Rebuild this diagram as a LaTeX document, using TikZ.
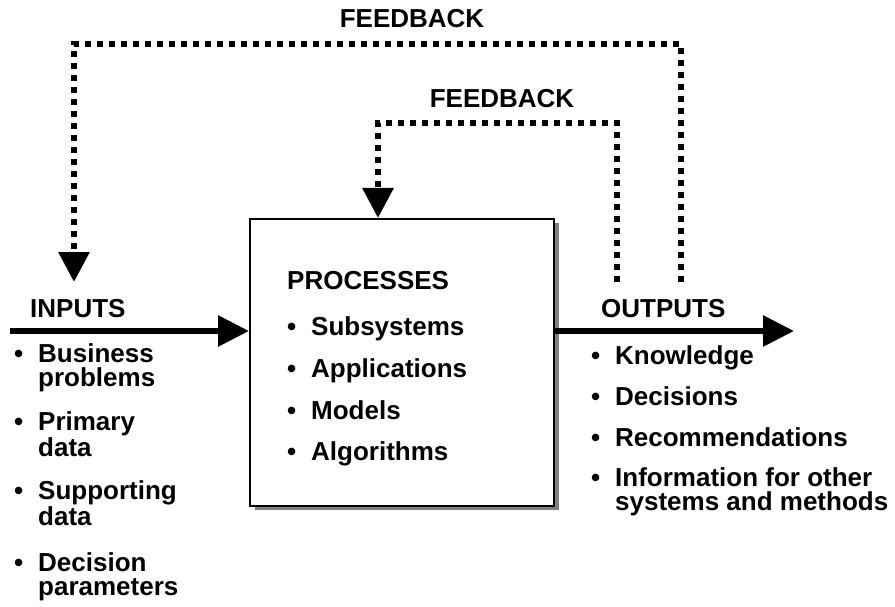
\documentclass[tikz,border=0pt]{standalone}
\usepackage{fontspec}
\setmainfont{Liberation Sans}
\usepackage{tikz}
\usetikzlibrary{arrows.meta}
\usetikzlibrary{shadows}
\usetikzlibrary{positioning}

\tikzset{
  lbl/.style={font=\fontsize{26}{23.5}\selectfont\bfseries, inner sep=0pt, anchor=base west, align=left},
  flow/.style={line width=6pt, -{Triangle[length=31pt,width=30pt]}},
  fback/.style={line width=6pt, dash pattern=on 6pt off 6pt, -{Triangle[length=30pt,width=30pt]}},
  procbox/.style={draw=black, line width=2pt, fill=white, minimum width=304pt, minimum height=287pt,
    drop shadow={shadow xshift=5pt, shadow yshift=-4pt, fill=gray, opacity=1}}
}
\newcommand{\bul}{\makebox[24pt][l]{\textbullet}}
\newcommand{\ind}{\hspace*{24pt}}

\begin{document}
\begin{tikzpicture}[x=1pt, y=-1pt]
    \useasboundingbox (0,0) rectangle (895,607);

    % the process box
    \node[procbox] (proc) at (402,362.5) {};
    \node[lbl] (phead) at (287,289) {PROCESSES};
    \node[lbl] (p1) at (287,335) {\bul Subsystems};
    \node[lbl] (p2) at (287,377) {\bul Applications};
    \node[lbl] (p3) at (287,419) {\bul Models};
    \node[lbl] (p4) at (287,460) {\bul Algorithms};

    % inputs (two-line nodes sit on their last line)
    \node[lbl] (inlab) at (30,317) {INPUTS};
    \node[lbl] (in1) at (14,386) {\bul Business\\\ind problems};
    \node[lbl] (in2) at (14,456) {\bul Primary\\\ind data};
    \node[lbl] (in3) at (14,525) {\bul Supporting\\\ind data};
    \node[lbl] (in4) at (14,595) {\bul Decision\\\ind parameters};

    % outputs
    \node[lbl] (outlab) at (601,317) {OUTPUTS};
    \node[lbl] (out1) at (591,364) {\bul Knowledge};
    \node[lbl] (out2) at (591,405) {\bul Decisions};
    \node[lbl] (out3) at (591,446) {\bul Recommendations};
    \node[lbl] (out4) at (591,510) {\bul Information for other\\\ind systems and methods};

    % feedback labels
    \node[lbl, anchor=base] (fbout) at (412,28) {FEEDBACK};
    \node[lbl, anchor=base] (fbin) at (502,108) {FEEDBACK};

    \coordinate (src) at (10,331);
    \coordinate (sink) at (794,331);
    \coordinate (fi) at (617,282);
    \coordinate (fo) at (681,282);
    \coordinate (pin) at (378,123);
    \coordinate (pout) at (74,44);
    \coordinate (inlet) at (74,282);

    \draw[flow] (src) -- (proc.west |- src);
    \draw[flow] (proc.east |- sink) -- (sink);
    \draw[fback] (fi) |- (pin) -- (pin |- proc.north);
    \draw[fback] (fo) |- (pout) -- (inlet);
  \end{tikzpicture}
\end{document}
